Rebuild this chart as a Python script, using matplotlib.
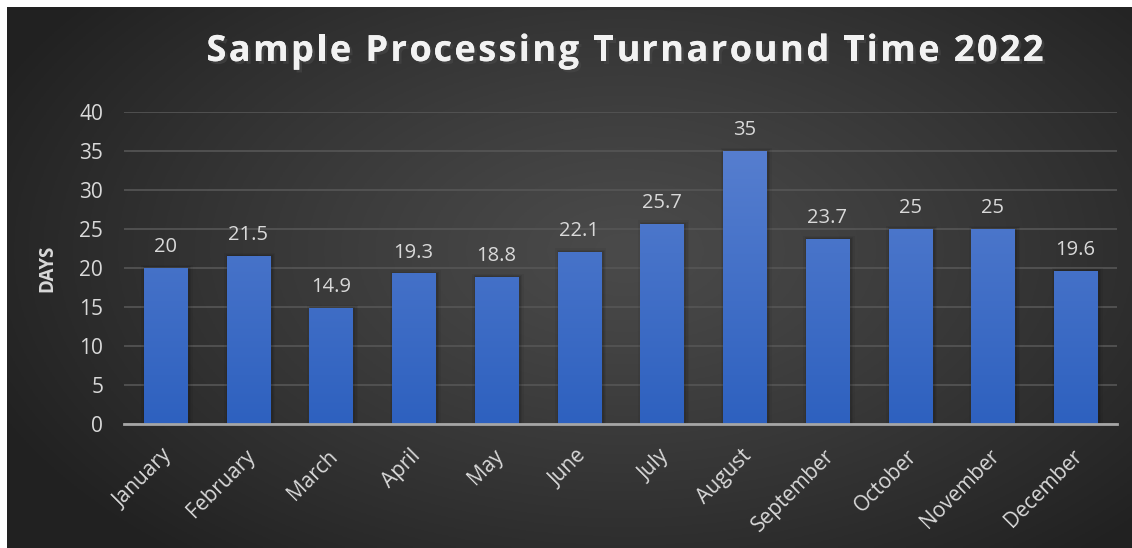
import matplotlib.pyplot as plt
import matplotlib.patheffects as pe
import matplotlib.transforms as mtransforms
from matplotlib.font_manager import FontProperties
import numpy as np

months = ['January', 'February', 'March', 'April', 'May', 'June', 'July',
          'August', 'September', 'October', 'November', 'December']
days = [20, 21.5, 14.9, 19.3, 18.8, 22.1, 25.7, 35, 23.7, 25, 25, 19.6]
yticks = [0, 5, 10, 15, 20, 25, 30, 35, 40]
title = 'Sample Processing Turnaround Time 2022'

W, H = 1132, 548
fig = plt.figure(figsize=(W / 100, H / 100), dpi=100, facecolor='white')

# dark backdrop with a soft radial glow, leaving a thin white margin top/left
bg = fig.add_axes([7 / W, 0, 1 - 7 / W, (H - 7) / H], zorder=-2)
gx, gy = np.meshgrid(np.linspace(0, 1, 400), np.linspace(0, 1, 200))
r = np.sqrt(((gx - 0.55) / 0.62) ** 2 + ((gy - 0.55) / 0.75) ** 2)
shade = 0.29 - 0.16 * np.clip(r, 0, 1) ** 1.2
bg.imshow(np.dstack([shade] * 3), aspect='auto', extent=[0, 1, 0, 1],
          origin='lower')
bg.axis('off')

ax = fig.add_axes([124 / W, 124 / H, 993 / W, 312 / H])
ax.set_facecolor('none')
x = np.arange(len(months))
bw = 0.52

# soft shadow around the bars
for grow, a in [(0.10, 0.05), (0.06, 0.07), (0.03, 0.09)]:
    ax.bar(x + 0.02, np.array(days) + grow * 4, width=bw + grow, color='black',
           alpha=a, zorder=1, linewidth=0)

bars = ax.bar(x, days, width=bw, color='#4472c4', zorder=2, linewidth=0)

# vertical blue gradient inside each bar
grad = np.linspace(0, 1, 256).reshape(-1, 1)
top = np.array([0.36, 0.51, 0.82])
bot = np.array([0.18, 0.38, 0.75])
cols = (bot + (top - bot) * grad[..., None]).reshape(256, 1, 3)
for b in bars:
    im = ax.imshow(cols, extent=[b.get_x(), b.get_x() + b.get_width(), 0, 40],
                   origin='lower', aspect='auto', zorder=3)
    im.set_clip_path(b)

for xi, v in zip(x, days):
    ax.text(xi, v + 1.4, f'{v:g}', ha='center', va='bottom', color='#d9d9d9',
            fontsize=14.5, family='Open Sans', zorder=4)

ax.set_xlim(-0.5, len(months) - 0.5)
ax.set_ylim(0, 40)
ax.set_yticks(yticks)
ax.grid(axis='y', color='#565656', linewidth=1.2, zorder=0)
ax.set_axisbelow(True)
for s in ['top', 'right', 'left']:
    ax.spines[s].set_visible(False)
ax.spines['bottom'].set_color('#a6a6a6')
ax.spines['bottom'].set_linewidth(2)
ax.spines['bottom'].set_zorder(5)
ax.tick_params(length=0, colors='#d9d9d9', labelsize=15)
ax.tick_params(axis='y', pad=15)
ax.tick_params(axis='x', pad=21)
ax.set_xticks(x)
ax.set_xticklabels(months, rotation=45, ha='right', va='center',
                   rotation_mode='anchor', family='Open Sans')
shift = mtransforms.ScaledTranslation(4 / 100, 0, fig.dpi_scale_trans)
for t in ax.get_xticklabels():
    t.set_transform(t.get_transform() + shift)
for t in ax.get_yticklabels():
    t.set_family('Open Sans')
ax.set_ylabel('DAYS', color='#d9d9d9', fontsize=13.5, fontweight='bold',
              family='Open Sans', labelpad=16)

# title with wide letter spacing, placed one character at a time
prop = FontProperties(family='Open Sans', weight='bold', size=26)
renderer = fig.canvas.get_renderer()


def text_w(s):
    return renderer.get_text_width_height_descent(s, prop, ismath=False)[0]


full_w = text_w(title)
target_w = 837
track = (target_w - full_w) / (len(title) - 1)
x0 = 625 - target_w / 2
ref_w = text_w('I')
shadow = [pe.withSimplePatchShadow(offset=(2, -2), alpha=0.6), pe.Normal()]
for i, ch in enumerate(title):
    if ch == ' ':
        continue
    px = x0 + (text_w(title[:i] + 'I') - ref_w if i else 0) + i * track
    fig.text(px / W, 1 - 61 / H, ch, ha='left', va='baseline',
             color='#f2f2f2', fontproperties=prop, path_effects=shadow)

fig.savefig('out.png', dpi=100, facecolor='white')
